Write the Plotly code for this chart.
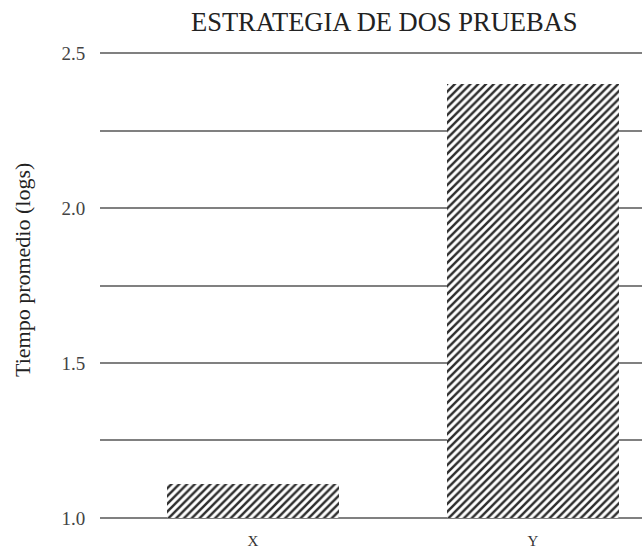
import plotly.graph_objects as go

categories = ["X", "Y"]
values = [1.11, 2.40]
baseline = 1.0
y_ticks = [1.0, 1.5, 2.0, 2.5]
y_tick_labels = ["1.0", "1.5", "2.0", "2.5"]
title_text = "ESTRATEGIA DE DOS PRUEBAS"
y_title = "Tiempo promedio (logs)"

serif = "Liberation Serif, Times New Roman, serif"

fig = go.Figure()
fig.add_trace(go.Bar(
    x=categories,
    y=[v - baseline for v in values],
    base=[baseline] * len(values),
    width=0.615,
    marker=dict(
        color="white",
        line=dict(width=0),
        pattern=dict(shape="/", size=5.5, solidity=0.45, fgcolor="#2e2e2e",
                     bgcolor="white", fgopacity=1),
    ),
    showlegend=False,
    hoverinfo="skip",
))

fig.update_layout(
    width=642, height=549,
    margin=dict(l=100, r=0, t=50, b=28),
    paper_bgcolor="white", plot_bgcolor="white",
    font=dict(family=serif, color="#333"),
    xaxis=dict(
        range=[-0.546, 1.389],
        showgrid=False, showline=False, zeroline=False,
        ticks="outside", ticklen=6, tickcolor="rgba(0,0,0,0)",
        tickfont=dict(size=15, color="#333", family=serif),
    ),
    yaxis=dict(
        range=[0.99, 2.51],
        tickvals=y_ticks, ticktext=y_tick_labels,
        tickfont=dict(size=19, color="#444", family=serif),
        showgrid=True, gridcolor="#808080", gridwidth=1.5,
        minor=dict(dtick=0.25, showgrid=True, gridcolor="#808080", gridwidth=1.5),
        showline=False, zeroline=False,
        ticks="outside", ticklen=10, tickcolor="rgba(0,0,0,0)",
    ),
    bargap=0,
)

fig.add_annotation(
    text=title_text, xref="paper", yref="paper",
    x=(384 - 100) / 542, y=1.0, yanchor="middle",
    yshift=28, showarrow=False,
    font=dict(size=26.5, family=serif, color="#222"),
)
fig.add_annotation(
    text=y_title, xref="paper", yref="paper",
    x=-78 / 542, y=(521 - 270) / 471, textangle=-90,
    xanchor="center", yanchor="middle", showarrow=False,
    font=dict(size=22, family=serif, color="#222"),
)

fig.write_html("out.html", config={"displayModeBar": False},
               post_script="document.body.style.margin='0';")
